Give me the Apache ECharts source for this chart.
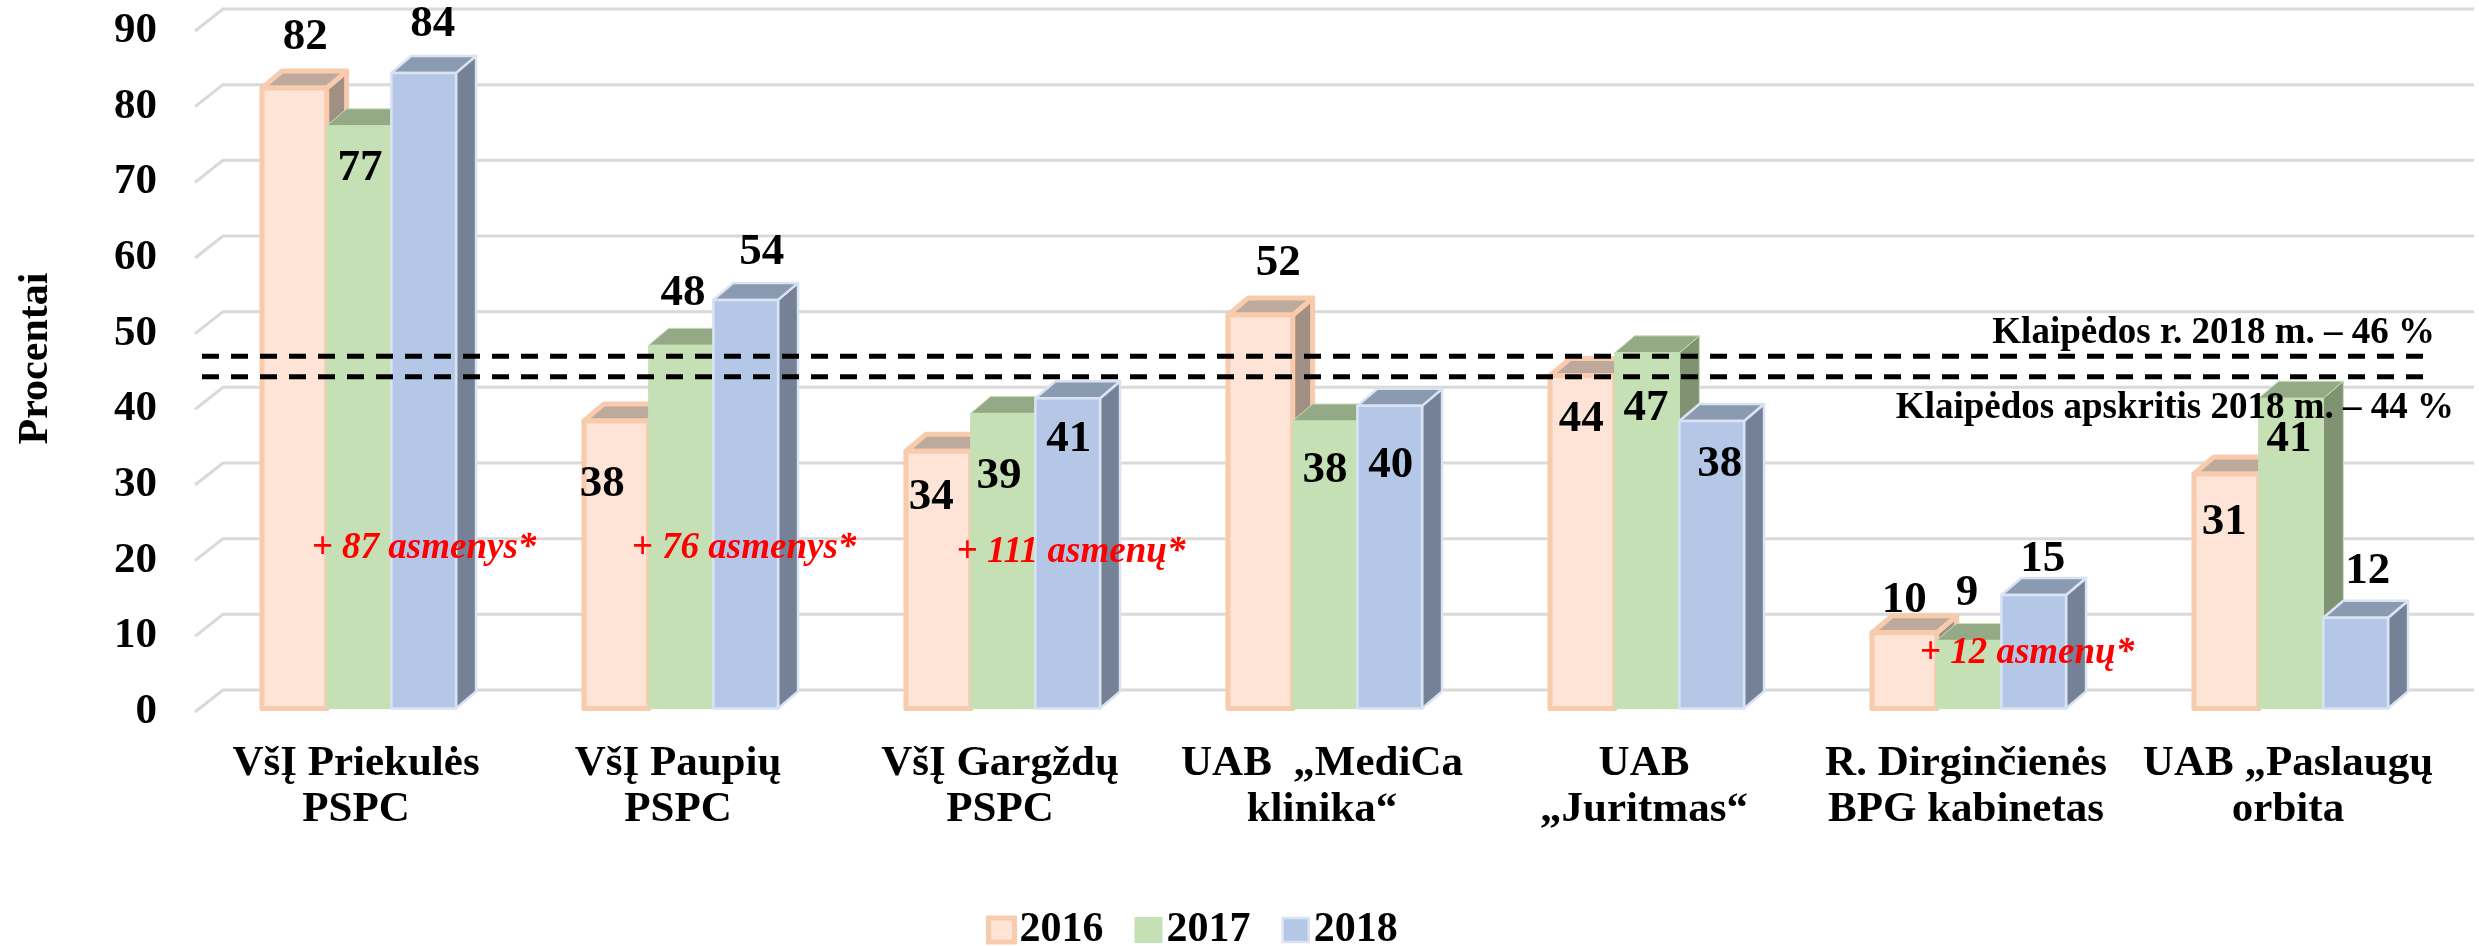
<!DOCTYPE html>
<html>
<head>
<meta charset="utf-8">
<script src="https://cdn.jsdelivr.net/npm/echarts@6/dist/echarts.min.js"></script>
<style>
  html, body { margin: 0; background: #fff; }
  #chart { width: 2479px; height: 946px; }
</style>
</head>
<body>
<div id="chart"></div>
<script>
// chart data
const categories = [
  'VšĮ Priekulės\nPSPC', 'VšĮ Paupių\nPSPC', 'VšĮ Gargždų\nPSPC', 'UAB  „MediCa\nklinika“',
  'UAB\n„Juritmas“', 'R. Dirginčienės\nBPG kabinetas', 'UAB „Paslaugų\norbita'
];
const values2016 = [82, 38, 34, 52, 44, 10, 31];
const values2017 = [77, 48, 39, 38, 47, 9, 41];
const values2018 = [84, 54, 41, 40, 38, 15, 12];
const yTicks = [0, 10, 20, 30, 40, 50, 60, 70, 80, 90];
// where the two dashed lines sit on the front plane
const dashedLevels = [47, 44.3];

// value label nudges from the top middle of each bar, px
const labelShift2016 = [[14, -54], [-11, 60], [-4, 43], [21, -55], [2, 40], [3, -36], [1, 45]];
const labelShift2017 = [[4, 39], [5, -55], [-1, 59], [3, 46], [2, 52], [1, -51], [1, 38]];
const labelShift2018 = [[12, -52], [19, -51], [4, 38], [4, 56], [11, 40], [12, -39], [15, -50]];

const FONT = '"Liberation Serif", serif';
const BAR_W = 64.7;
const DEPTH_X = 20, DEPTH_Y = 17;
const WALL_X = 28, WALL_Y = 22;
// the bars stand a little up and right of the wall's front edge
const BAR_NUDGE_X = 3, BAR_NUDGE_Y = -3.5;

function barSeries(name, values, shifts, index, colors) {
  return {
    name: name,
    type: 'custom',
    z: 3,
    itemStyle: { color: colors.face, borderColor: colors.border, borderWidth: colors.line },
    data: values.map((v, k) => [k, v]),
    encode: { x: 0, y: 1 },
    clip: false,
    renderItem: function (params, api) {
      const k = api.value(0);
      const v = api.value(1);
      const top = api.coord([k, v]);
      const base = api.coord([k, 0]);
      const cx = top[0] + (index - 1) * BAR_W;
      const x0 = cx + BAR_NUDGE_X - BAR_W / 2, x1 = x0 + BAR_W;
      const y0 = top[1] + BAR_NUDGE_Y, y1 = base[1] + BAR_NUDGE_Y;
      const line = { stroke: colors.border, lineWidth: colors.line, lineJoin: 'round' };
      return {
        type: 'group',
        children: [
          { type: 'polygon', z2: index * 3 + 1,
            shape: { points: [[x1, y0], [x1 + DEPTH_X, y0 - DEPTH_Y], [x1 + DEPTH_X, y1 - DEPTH_Y], [x1, y1]] },
            style: Object.assign({ fill: colors.side }, line) },
          { type: 'polygon', z2: index * 3 + 2,
            shape: { points: [[x0, y0], [x0 + DEPTH_X, y0 - DEPTH_Y], [x1 + DEPTH_X, y0 - DEPTH_Y], [x1, y0]] },
            style: Object.assign({ fill: colors.top }, line) },
          { type: 'rect', z2: index * 3 + 3,
            shape: { x: x0, y: y0, width: BAR_W, height: y1 - y0 },
            style: Object.assign({ fill: colors.face }, line) },
          { type: 'text', z2: 50,
            style: {
              x: cx + shifts[k][0], y: top[1] + shifts[k][1], text: String(v),
              fill: '#000', font: 'bold 45px ' + FONT, align: 'center', verticalAlign: 'middle'
            } }
        ]
      };
    }
  };
}

function redNote(text, x, y) {
  return {
    type: 'text', x: x, y: y, z: 100,
    style: { text: text, fill: '#ff0000', font: 'italic bold 37px ' + FONT, align: 'center', verticalAlign: 'middle' }
  };
}
function blackNote(text, x, y) {
  return {
    type: 'text', x: x, y: y, z: 100,
    style: { text: text, fill: '#000', font: 'bold 37px ' + FONT, align: 'right', verticalAlign: 'middle' }
  };
}

const chart = echarts.init(document.getElementById('chart'));
chart.setOption({
  animation: false,
  backgroundColor: '#fff',
  grid: { left: 195, width: 2254, top: 31, height: 681, outerBoundsMode: 'none' },
  legend: {
    left: 981, top: 904,
    data: [
      { name: '2016', itemStyle: { borderColor: '#f8cbad', borderWidth: 5 } },
      { name: '2017' },
      { name: '2018', itemStyle: { borderColor: '#dae3f3', borderWidth: 2.5 } }
    ],
    icon: 'rect',
    itemWidth: 26, itemHeight: 24, itemGap: 31,
    textStyle: { fontFamily: FONT, fontWeight: 'bold', fontSize: 42, color: '#000' }
  },
  xAxis: {
    type: 'category',
    data: categories,
    axisLine: { show: false },
    axisTick: { show: false },
    axisLabel: {
      interval: 0, margin: 29, lineHeight: 46,
      fontFamily: FONT, fontWeight: 'bold', fontSize: 43, color: '#000'
    }
  },
  yAxis: {
    type: 'value',
    min: 0, max: 90, interval: 10,
    name: 'Procentai',
    nameLocation: 'middle',
    nameGap: 138,
    nameTextStyle: { fontFamily: FONT, fontWeight: 'bold', fontSize: 42, color: '#000', padding: [0, 0, 0, 26] },
    axisLine: { show: false },
    axisTick: { show: false },
    splitLine: { show: false },
    axisLabel: { margin: 38, fontFamily: FONT, fontWeight: 'bold', fontSize: 43, color: '#000' }
  },
  series: [
    // back wall lines, slanted where they meet the front plane
    {
      type: 'custom', z: 1, clip: false, silent: true,
      data: yTicks.map(t => [0, t]),
      encode: { x: 0, y: 1 },
      renderItem: function (params, api) {
        const y = api.coord([0, api.value(1)])[1];
        const left = params.coordSys.x, right = left + params.coordSys.width;
        return {
          type: 'polyline',
          shape: { points: [[left, y], [left + WALL_X, y - WALL_Y], [right + WALL_X - 3, y - WALL_Y]] },
          style: { stroke: '#d9d9d9', lineWidth: 3, fill: null }
        };
      }
    },
    barSeries('2016', values2016, labelShift2016, 0, { face: '#fde4d6', top: '#beaa9c', side: '#a18f83', border: '#f8cbad', line: 5 }),
    barSeries('2017', values2017, labelShift2017, 1, { face: '#c5e0b4', top: '#94a985', side: '#7f9373', border: '#c5e0b4', line: 1 }),
    barSeries('2018', values2018, labelShift2018, 2, { face: '#b4c7e7', top: '#8a9ab1', side: '#748196', border: '#dae3f3', line: 2.5 }),
    // the two county / region reference lines
    {
      type: 'custom', z: 4, clip: false, silent: true,
      data: dashedLevels.map(l => [0, l]),
      encode: { x: 0, y: 1 },
      renderItem: function (params, api) {
        const y = api.coord([0, api.value(1)])[1];
        const left = params.coordSys.x, right = left + params.coordSys.width;
        return {
          type: 'line', z2: 60,
          shape: { x1: left + 7, y1: y, x2: right - 14, y2: y },
          style: { stroke: '#000', lineWidth: 5, lineDash: [17, 12] }
        };
      }
    }
  ],
  graphic: [
    redNote('+ 87 asmenys*', 424, 548),
    redNote('+ 76 asmenys*', 744, 548),
    redNote('+ 111 asmenų*', 1071, 552),
    redNote('+ 12 asmenų*', 2027, 653),
    blackNote('Klaipėdos r. 2018 m. – 46 %', 2435, 333),
    blackNote('Klaipėdos apskritis 2018 m. – 44 %', 2454, 408)
  ]
});
</script>
</body>
</html>
